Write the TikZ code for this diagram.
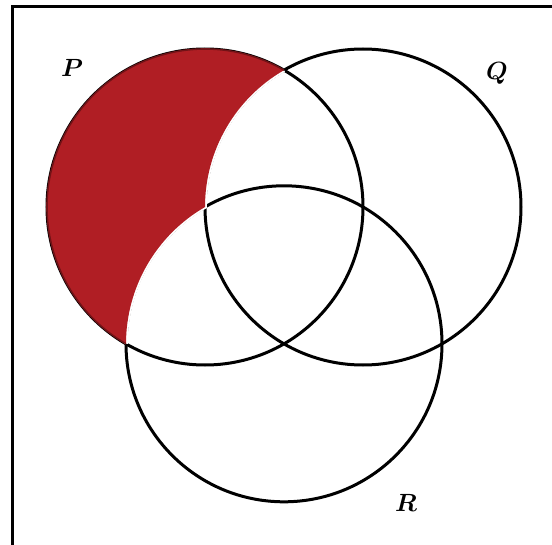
\documentclass[tikz,border=0pt]{standalone}
\usepackage{amsmath}
\definecolor{setred}{HTML}{B01E24}
\begin{document}
\begin{tikzpicture}[
  x=1pt, y=1pt,
  ring/.style={line width=3pt},
  halo/.style={draw=white, line width=3.6pt},
  lbl/.style={font=\fontsize{28}{32}\selectfont}
]
\useasboundingbox (-205,-337) rectangle (347,207);
\def\rad{158}
\draw[line width=3pt] (-192,-380) rectangle (400,200);
\coordinate (cP) at (0,0);
\coordinate (cQ) at (\rad,0);
\coordinate (cR) at (79,-136.8);
\draw[ring] (cP) circle[radius=\rad];
\draw[ring] (cQ) circle[radius=\rad];
\draw[ring] (cR) circle[radius=\rad];
% only P
\draw[halo] (240:\rad) arc[start angle=180, end angle=120, radius=\rad]
  arc[start angle=180, end angle=120, radius=\rad];
\fill[setred] (60:\rad) arc[start angle=60, end angle=240, radius=\rad]
  arc[start angle=180, end angle=120, radius=\rad]
  arc[start angle=180, end angle=120, radius=\rad] -- cycle;
\draw[setred!65!black, line width=1.6pt] (60:\rad) arc[start angle=60, end angle=240, radius=\rad];
\node[lbl] (lP) at (-133,139) {$\boldsymbol{P}$};
\node[lbl] (lQ) at (292,134) {$\boldsymbol{Q}$};
\node[lbl] (lR) at (201,-296) {$\boldsymbol{R}$};
\end{tikzpicture}
\end{document}
